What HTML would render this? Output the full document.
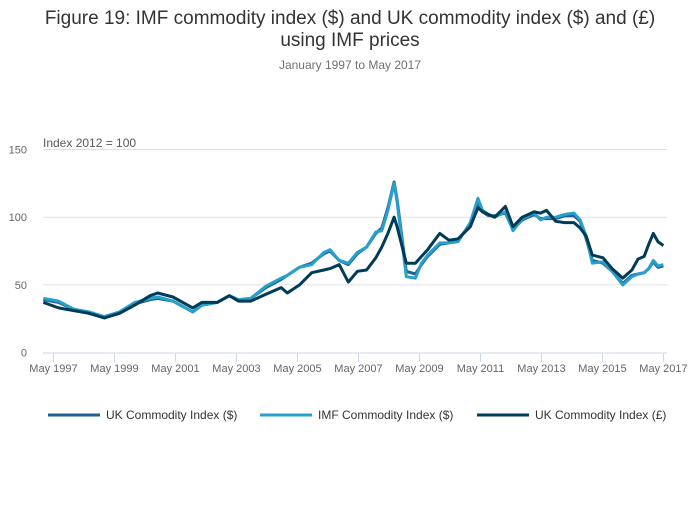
<!DOCTYPE html>
<html><head><meta charset="utf-8"><style>
body{margin:0;background:#fff;font-family:"Liberation Sans",sans-serif;}
svg text{font-family:"Liberation Sans",sans-serif;}
</style></head><body>
<svg id="chart" width="700" height="502" xmlns="http://www.w3.org/2000/svg">
<text x="350" y="24" text-anchor="middle" font-size="19" fill="#333">Figure 19: IMF commodity index ($) and UK commodity index ($) and (£)</text>
<text x="350" y="46" text-anchor="middle" font-size="19" fill="#333">using IMF prices</text>
<text x="350" y="69" text-anchor="middle" font-size="12" fill="#707070">January 1997 to May 2017</text>
<text x="43" y="147" font-size="12" fill="#595959">Index 2012 = 100</text>
<g id="grid"></g><g id="xaxis"></g><g id="series"></g><g id="legend"></g>
</svg>
<script>
const dates=[1997.0,1997.5,1998.0,1998.5,1999.0,1999.5,2000.0,2000.5,2000.75,2001.25,2001.9,2002.2,2002.7,2003.1,2003.4,2003.8,2004.3,2004.8,2005.0,2005.4,2005.8,2006.2,2006.4,2006.7,2007.0,2007.3,2007.6,2007.9,2008.1,2008.3,2008.5,2008.6,2008.9,2009.2,2009.4,2009.6,2010.0,2010.3,2010.6,2011.0,2011.25,2011.4,2011.6,2011.8,2012.15,2012.4,2012.7,2013.1,2013.3,2013.5,2013.8,2014.1,2014.4,2014.6,2014.8,2015.0,2015.35,2015.65,2016.0,2016.3,2016.5,2016.7,2016.85,2017.0,2017.15,2017.33];
const ukUsd=[39,37,32,29,26,29,36,39,40,38,30,35,37,42,39,40,48,54,57,63,66,73,75,68,65,73,78,88,92,107,126,113,60,58,65,71,80,81,83,95,112,104,101,101,103,91,98,102,99,99,99,101,101,97,84,68,66,60,51,57,58,59,62,67,63,64];
const imfUsd=[40,38,32,30,26.5,30,37,40,41,38,30,35,37,42,39,40,49,55,57,63,65,74,76,68,66,74,78,89,90,105,125,111,56,55,66,72,81,81,82,96,114,105,102,100,104,90,99,103,98,100,100,102,103,98,86,66,67,60,50,56,58,59,62,68,64,65];
const ukGbp=[37,33,31,29,25.5,29,35,42,44,41,33,37,37,42,38,38,43,48,44,50,59,61,62,65,52,60,61,70,78,88,100,93,66,66,71,76,88,83,84,93,107,104,102,100,108,93,100,104,103,105,97,96,96,92,86,72,70,62,55,61,69,71,80,88,82,79];
const yTicks=[0,50,100,150];
const xTickLabels=["May 1997","May 1999","May 2001","May 2003","May 2005","May 2007","May 2009","May 2011","May 2013","May 2015","May 2017"];
const xTickYears=[1997.333,1999.333,2001.333,2003.333,2005.333,2007.333,2009.333,2011.333,2013.333,2015.333,2017.333];
const seriesNames=["UK Commodity Index ($)","IMF Commodity Index ($)","UK Commodity Index (£)"];

const NS="http://www.w3.org/2000/svg";
const x=yr=>43.3+(yr-1997)*30.5;
const y=v=>352.5-v*1.353;
function mk(tag,attrs,parent){const e=document.createElementNS(NS,tag);for(const k in attrs)e.setAttribute(k,attrs[k]);parent.appendChild(e);return e;}
const grid=document.getElementById('grid');
yTicks.forEach(t=>{
  if(t>0){const l=mk('line',{x1:43,x2:667,y1:y(t),y2:y(t),stroke:'#e0e0e0','stroke-width':1},grid);
  
  }
  const tx=mk('text',{x:27,y:y(t)+4,'text-anchor':'end','font-size':11,fill:'#666'},grid);tx.textContent=t;
  
  
});
const xa=document.getElementById('xaxis');
const ax=mk('line',{x1:43,x2:667,y1:353,y2:353,stroke:'#ccd6eb','stroke-width':1},xa);


xTickYears.forEach((yr,i)=>{
  const tk=mk('line',{x1:x(yr),x2:x(yr),y1:353,y2:362,stroke:'#ccd6eb'},xa);
  
  
  const tx=mk('text',{x:x(yr),y:372,'text-anchor':'middle','font-size':11,fill:'#666'},xa);tx.textContent=xTickLabels[i];
  
  
});
const sg=document.getElementById('series');
const colors=['#206095','#27a0cc','#003c57'];
[ukUsd,imfUsd,ukGbp].forEach((arr,si)=>{
  const d=arr.map((v,i)=>(i?'L':'M')+x(dates[i]).toFixed(1)+','+y(v).toFixed(1)).join('');
  const p=mk('path',{d:d,fill:'none',stroke:colors[si],'stroke-width':3,'stroke-linejoin':'round'},sg);
  
  
});
const lg=document.getElementById('legend');
const lx=[48,260,477];
seriesNames.forEach((n,i)=>{
  const g=mk('g',{},lg);
  
  
  mk('line',{x1:lx[i],x2:lx[i]+52,y1:415,y2:415,stroke:colors[i],'stroke-width':3},g);
  const t=mk('text',{x:lx[i]+58,y:419,'font-size':12,fill:'#333'},g);t.textContent=n;
});
</script>
</body></html>
